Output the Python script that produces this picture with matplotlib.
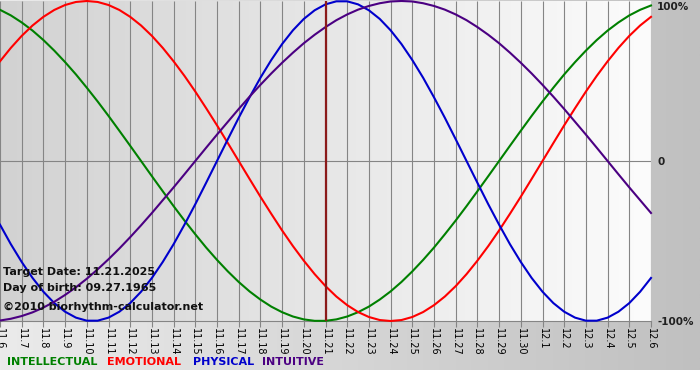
import numpy as np
import matplotlib
matplotlib.use('Agg')
import matplotlib.pyplot as plt
from matplotlib.colors import LinearSegmentedColormap

# days shown on the chart, 11.6 .. 12.6
days = ['11.%d' % d for d in range(6, 31)] + ['12.%d' % d for d in range(1, 7)]
target_day = '11.21'
steps_per_day = 2

# cycle values every half day (-1 .. 1)
intellectual = [0.945, 0.910, 0.866, 0.815, 0.756, 0.690, 0.618, 0.541, 0.458, 0.372,
                0.282, 0.189, 0.095, 0.000, -0.095, -0.189, -0.282, -0.372, -0.458, -0.541,
                -0.618, -0.690, -0.756, -0.815, -0.866, -0.910, -0.945, -0.972, -0.990, -0.999,
                -0.999, -0.990, -0.972, -0.945, -0.910, -0.866, -0.815, -0.756, -0.690, -0.618,
                -0.541, -0.458, -0.372, -0.282, -0.189, -0.095, 0.000, 0.095, 0.189, 0.282,
                0.372, 0.458, 0.541, 0.618, 0.690, 0.756, 0.815, 0.866, 0.910, 0.945,
                0.972]
emotional = [0.623, 0.707, 0.782, 0.847, 0.901, 0.944, 0.975, 0.994, 1.000, 0.994,
             0.975, 0.944, 0.901, 0.847, 0.782, 0.707, 0.623, 0.532, 0.434, 0.330,
             0.223, 0.112, 0.000, -0.112, -0.223, -0.330, -0.434, -0.532, -0.623, -0.707,
             -0.782, -0.847, -0.901, -0.944, -0.975, -0.994, -1.000, -0.994, -0.975, -0.944,
             -0.901, -0.847, -0.782, -0.707, -0.623, -0.532, -0.434, -0.330, -0.223, -0.112,
             0.000, 0.112, 0.223, 0.330, 0.434, 0.532, 0.623, 0.707, 0.782, 0.847,
             0.901]
physical = [-0.398, -0.520, -0.631, -0.731, -0.817, -0.888, -0.942, -0.979, -0.998, -0.998,
            -0.979, -0.942, -0.888, -0.817, -0.731, -0.631, -0.520, -0.398, -0.270, -0.136,
            0.000, 0.136, 0.270, 0.398, 0.520, 0.631, 0.731, 0.817, 0.888, 0.942,
            0.979, 0.998, 0.998, 0.979, 0.942, 0.888, 0.817, 0.731, 0.631, 0.520,
            0.398, 0.270, 0.136, 0.000, -0.136, -0.270, -0.398, -0.520, -0.631, -0.731,
            -0.817, -0.888, -0.942, -0.979, -0.998, -0.998, -0.979, -0.942, -0.888, -0.817,
            -0.731]
intuitive = [-0.997, -0.986, -0.969, -0.946, -0.916, -0.880, -0.837, -0.789, -0.736, -0.677,
             -0.614, -0.547, -0.476, -0.402, -0.325, -0.245, -0.165, -0.083, 0.000, 0.083,
             0.165, 0.245, 0.325, 0.402, 0.476, 0.547, 0.614, 0.677, 0.736, 0.789,
             0.837, 0.880, 0.916, 0.946, 0.969, 0.986, 0.997, 1.000, 0.997, 0.986,
             0.969, 0.946, 0.916, 0.880, 0.837, 0.789, 0.736, 0.677, 0.614, 0.547,
             0.476, 0.402, 0.325, 0.245, 0.165, 0.083, 0.000, -0.083, -0.165, -0.245,
             -0.325]

series = [
    ('INTELLECTUAL', intellectual, '#008000'),
    ('EMOTIONAL', emotional, '#ff0000'),
    ('PHYSICAL', physical, '#0000cc'),
    ('INTUITIVE', intuitive, '#4b0082'),
]

W, H = 700, 380
fig = plt.figure(figsize=(W / 100, H / 100), dpi=100)
fig.patch.set_facecolor('white')

# outer gray gradient, white strip at the very bottom
bg = fig.add_axes([0, 0, 1, 1], zorder=-5)
bg_cmap = LinearSegmentedColormap.from_list('bg', ['#ebebeb', '#c0c0c0'])
bg.imshow(np.linspace(0, 1, 256).reshape(1, -1), cmap=bg_cmap, aspect='auto',
          extent=[0, 1, 10 / H, 1])
bg.set_xlim(0, 1)
bg.set_ylim(0, 1)
bg.axis('off')

ax = fig.add_axes([0, 1 - 321 / H, 651 / W, 320 / H])
x = np.arange(len(days))
plot_cmap = LinearSegmentedColormap.from_list('plot', ['#d2d2d2', '#fcfcfc'])
ax.imshow(np.linspace(0, 1, 256).reshape(1, -1), cmap=plot_cmap, aspect='auto',
          extent=[x[0], x[-1], -1, 1], zorder=0)

ax.vlines(x, -1, 1, color='#858585', lw=0.8, zorder=1)
ax.axhline(0, color='#858585', lw=0.8, zorder=1)

for name, vals, col in series:
    xs = np.arange(len(vals)) / steps_per_day
    ax.plot(xs, vals, color=col, lw=1.5, zorder=3, clip_on=False,
            solid_joinstyle='round')

ax.axvline(days.index(target_day), color='#8b1a1a', lw=1.6, zorder=4)

ax.set_xlim(x[0], x[-1])
ax.set_ylim(-1, 1)
for s in ['top', 'left', 'right']:
    ax.spines[s].set_visible(False)
ax.spines['bottom'].set_color('#858585')
ax.spines['bottom'].set_linewidth(0.8)
ax.set_yticks([])
ax.set_xticks(x)
ax.set_xticklabels(days, rotation=270, fontsize=7,
                   family=['Liberation Sans Narrow', 'DejaVu Sans'])
ax.tick_params(axis='x', length=4, width=0.8, color='#858585', pad=1)

# percentage labels to the right
for txt, ypx in [('100%', 7), ('0', 162), ('-100%', 322)]:
    fig.text(657 / W, 1 - ypx / H, txt, ha='left', va='center',
             fontsize=7.5, fontweight='bold', color='#202020')

# info text inside the chart
info = [('Target Date: 11.21.2025', 272), ('Day of birth: 09.27.1965', 288),
        ('©2010 biorhythm-calculator.net', 307)]
for txt, ypx in info:
    fig.text(3 / W, 1 - ypx / H, txt, ha='left', va='center',
             fontsize=8, fontweight='bold', color='#111111', zorder=10)

# legend line at the bottom
for (name, vals, col), xpx in zip(series, [7, 107, 193, 262]):
    fig.text(xpx / W, 1 - 362 / H, name, ha='left', va='center',
             fontsize=8, fontweight='bold', color=col)

fig.savefig('out.png', dpi=100)
